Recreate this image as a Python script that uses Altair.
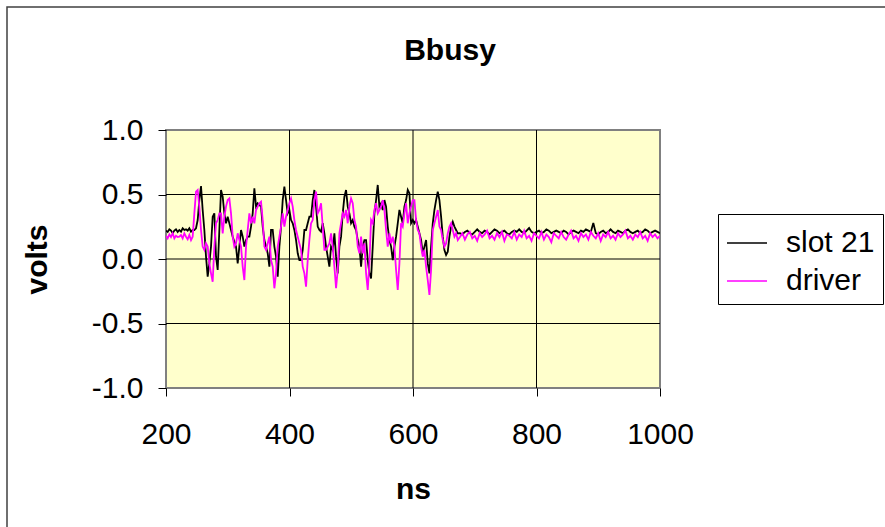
import altair as alt
import pandas as pd

# ---- data (volts) ----
# fast-sampled section, one sample every 2.7 ns starting at 200 ns
slot21_burst = [
    0.22, 0.21, 0.23, 0.22, 0.20, 0.22, 0.23, 0.21,
    0.225, 0.212, 0.238, 0.225, 0.23, 0.22, 0.238, 0.212, 0.225, 0.225,
    0.238, 0.302, 0.457, 0.566, 0.380, 0.225, 0.018, -0.137, -0.034, 0.096,
    0.328, 0.354, 0.018, -0.085, 0.225, 0.535, 0.483, 0.354, 0.277, 0.328,
    0.277, 0.225, 0.173, 0.134, 0.096, -0.034, 0.096, 0.225, 0.173, 0.096,
    0.147, 0.173,
    0.173, 0.251, 0.354, 0.548, 0.406, 0.432, 0.42, 0.406, 0.251, 0.147,
    0.096, 0.044, -0.059, 0.225, 0.225, 0.096, 0.018, -0.137, 0.096, 0.251,
    0.457, 0.561, 0.457, 0.354, 0.380, 0.302, 0.277, 0.225, 0.147, 0.044,
    -0.008, -0.008, 0.070, 0.225, 0.225, 0.277, 0.328, 0.328, 0.457, 0.535,
    0.406, 0.251,
    0.225, 0.212, 0.277, 0.199, 0.096, 0.018, -0.059, 0.096, 0.070, 0.199,
    0.018, -0.111, 0.096, 0.173, 0.354, 0.483, 0.535, 0.406, 0.354, 0.277,
    0.302, 0.251, 0.225, 0.147, 0.096, -0.059, 0.096, 0.147, 0.147, -0.008,
    -0.111, -0.150, 0.096, 0.354, 0.457, 0.574, 0.406, 0.432, 0.380, 0.457,
    0.406, 0.251,
    0.147, 0.096, -0.008, 0.096, 0.173, 0.277, 0.380, 0.328, 0.277, 0.406,
    0.457, 0.535, 0.509, 0.277, 0.302, 0.277, 0.302, 0.251, 0.199, 0.147,
    0.044, 0.096, 0.147, -0.034, -0.111, 0.096, 0.277, 0.380, 0.457, 0.522,
    0.457, 0.328, 0.173, 0.070, 0.031, 0.057, 0.173, 0.251, 0.289, 0.251,
    0.225, 0.199,
]
driver_burst = [
    0.18, 0.16, 0.19, 0.17, 0.20, 0.16, 0.18, 0.17,
    0.173, 0.186, 0.160, 0.199, 0.173, 0.153, 0.186, 0.147, 0.173, 0.354,
    0.522, 0.535, 0.406, 0.225, 0.096, 0.070, 0.121, 0.096, -0.034, -0.111,
    -0.176, 0.096, 0.277, 0.302, 0.354, 0.354, 0.199, 0.328, 0.406, 0.457,
    0.470, 0.354, 0.173, 0.096, 0.121, 0.199, 0.147, 0.096, -0.059, -0.163,
    0.096, 0.225,
    0.354, 0.277, 0.328, 0.277, 0.380, 0.406, 0.432, 0.444, 0.302, 0.096,
    0.070, 0.121, 0.173, -0.008, -0.059, -0.227, -0.111, 0.096, 0.173, 0.251,
    0.354, 0.251, 0.328, 0.380, 0.432, 0.470, 0.406, 0.302, 0.225, 0.173,
    0.121, 0.070, -0.059, -0.111, -0.215, -0.008, 0.147, 0.277, 0.302, 0.457,
    0.522, 0.354,
    0.380, 0.432, 0.251, 0.070, 0.070, 0.096, 0.121, 0.199, 0.096, -0.059,
    -0.227, -0.085, 0.199, 0.277, 0.354, 0.328, 0.380, 0.277, 0.406, 0.470,
    0.432, 0.302, 0.251, 0.096, 0.044, 0.173, 0.044, 0.121, -0.111, -0.240,
    -0.034, 0.302, 0.277, 0.380, 0.432, 0.354, 0.380, 0.406, 0.457, 0.380,
    0.225, 0.096,
    0.199, 0.121, 0.173, 0.096, -0.085, -0.240, -0.034, 0.277, 0.251, 0.354,
    0.432, 0.277, 0.354, 0.406, 0.457, 0.457, 0.302, 0.225, 0.199, 0.096,
    0.018, 0.070, -0.059, -0.163, -0.279, -0.085, 0.225, 0.277, 0.328, 0.380,
    0.251, 0.225, 0.147, 0.096, 0.121, 0.199, 0.251, 0.277, 0.225, 0.173,
    0.199, 0.147,
]
# quiet tail, one sample every 4 ns starting at 676 ns
slot21_tail = [
    0.20, 0.19, 0.21, 0.22, 0.20, 0.19, 0.21, 0.23, 0.21, 0.20,
    0.22, 0.21, 0.19, 0.21, 0.23, 0.22, 0.20, 0.21, 0.22, 0.20,
    0.19, 0.21, 0.22, 0.21, 0.23, 0.21, 0.20, 0.22, 0.24, 0.21,
    0.20, 0.21, 0.22, 0.20, 0.21, 0.23, 0.22, 0.20, 0.21, 0.22,
    0.21, 0.20, 0.22, 0.21, 0.19, 0.21, 0.22, 0.21, 0.20, 0.22,
    0.21, 0.23, 0.22, 0.21, 0.28, 0.20, 0.19, 0.21, 0.22, 0.20,
    0.21, 0.23, 0.21, 0.20, 0.22, 0.21, 0.20, 0.22, 0.23, 0.21,
    0.20, 0.21, 0.22, 0.20, 0.21, 0.23, 0.22, 0.20, 0.21, 0.22,
    0.21, 0.20,
]
driver_tail = [
    0.17, 0.20, 0.15, 0.19, 0.21, 0.16, 0.18, 0.14, 0.20, 0.17,
    0.19, 0.22, 0.16, 0.18, 0.15, 0.20, 0.17, 0.21, 0.14, 0.19,
    0.18, 0.16, 0.21, 0.15, 0.19, 0.17, 0.22, 0.16, 0.18, 0.14,
    0.20, 0.18, 0.16, 0.21, 0.15, 0.19, 0.17, 0.13, 0.20, 0.18,
    0.16, 0.21, 0.17, 0.15, 0.19, 0.22, 0.16, 0.18, 0.14, 0.20,
    0.17, 0.19, 0.15, 0.21, 0.18, 0.16, 0.20, 0.14, 0.19, 0.17,
    0.21, 0.16, 0.18, 0.15, 0.20, 0.17, 0.19, 0.22, 0.16, 0.18,
    0.15, 0.19, 0.17, 0.21, 0.16, 0.18, 0.14, 0.20, 0.17, 0.19,
    0.16, 0.18,
]
series_names = ["slot 21", "driver"]
series_colors = ["#000000", "#FF00FF"]
x_ticks = [200, 400, 600, 800, 1000]
y_ticks = [-1.0, -0.5, 0.0, 0.5, 1.0]
grid_x = [400, 600, 800]
grid_y = [-0.5, 0.0, 0.5]

burst_start, burst_step = 200.0, 2.7
tail_start, tail_step = 676, 4
burst_ns = [round(burst_start + burst_step * i, 1) for i in range(len(slot21_burst))]
tail_ns = [tail_start + tail_step * i for i in range(len(slot21_tail))]

rows = []
for name, burst, tail in [("slot 21", slot21_burst, slot21_tail),
                          ("driver", driver_burst, driver_tail)]:
    for t, v in zip(burst_ns + tail_ns, burst + tail):
        rows.append({"ns": t, "volts": v, "series": name})
df = pd.DataFrame(rows)

FONT = "Liberation Sans"
FS = 30

X_ENC = alt.X(
    "ns:Q",
    scale=alt.Scale(domain=[200, 1000], nice=False, zero=False),
    axis=alt.Axis(
        values=x_ticks, format="d", title="ns", grid=False, domain=False,
        tickSize=8, tickColor="#000000", labelPadding=38, labelBaseline="middle",
        labelFont=FONT, labelFontSize=FS, labelColor="#000000", labelOverlap=False,
        labelFlush=False, titleFont=FONT, titleFontSize=FS, titleFontWeight="bold",
        titleColor="#000000", titleX=247, titleY=101, titleBaseline="middle",
    ),
)
Y_ENC = alt.Y(
    "volts:Q",
    scale=alt.Scale(domain=[-1, 1], nice=False, zero=False),
    axis=alt.Axis(
        values=y_ticks,
        labelExpr="(datum.value < 0 ? '-' : '') + format(abs(datum.value), '.1f')",
        title="volts", grid=False, domain=False, tickSize=8, tickColor="#000000",
        labelPadding=15, labelFont=FONT, labelFontSize=FS, labelColor="#000000",
        labelOverlap=False, labelFlush=False, titleFont=FONT, titleFontSize=FS,
        titleFontWeight="bold", titleColor="#000000", titleX=-129, titleY=129,
        titleAngle=270, titleAlign="center", titleBaseline="middle",
    ),
)

frame = alt.Chart(pd.DataFrame({"k": [0]})).mark_rect(
    filled=False, stroke="#404040", strokeWidth=1.5
).encode(
    x=alt.value(-159), x2=alt.value(740), y=alt.value(-123), y2=alt.value(420)
)

rule_x = alt.Chart(pd.DataFrame({"ns": grid_x})).mark_rule(
    color="#000000", strokeWidth=1
).encode(x=X_ENC)
rule_y = alt.Chart(pd.DataFrame({"volts": grid_y})).mark_rule(
    color="#000000", strokeWidth=1
).encode(y=Y_ENC)

lines = alt.Chart(df).mark_line(strokeWidth=1.8, clip=True).encode(
    x=X_ENC,
    y=Y_ENC,
    color=alt.Color(
        "series:N",
        sort=series_names,
        scale=alt.Scale(domain=series_names, range=series_colors),
        legend=alt.Legend(
            title=None, orient="none", legendX=552, legendY=84,
            symbolType="stroke", symbolSize=1600, symbolStrokeWidth=1.5,
            labelFont=FONT, labelFontSize=FS, labelColor="#000000",
            labelOffset=18, rowPadding=2, padding=8, strokeColor="#000000",
            fillColor="#FFFFFF", labelLimit=400,
        ),
    ),
)

chart = alt.layer(frame, rule_x, rule_y, lines).properties(
    width=494,
    height=258,
    background="#FFFFFF",
    autosize=alt.AutoSizeParams(type="none"),
    padding={"left": 166, "top": 130, "right": 225, "bottom": 139},
    title=alt.TitleParams(
        "Bbusy", font=FONT, fontSize=FS, fontWeight="bold", color="#000000",
        anchor="middle", offset=-60, dx=37,
    ),
).configure_view(
    fill="#FFFFCC", stroke="#808080", strokeWidth=2
)

chart.save("out.html", embed_options={"renderer": "svg", "actions": False})
